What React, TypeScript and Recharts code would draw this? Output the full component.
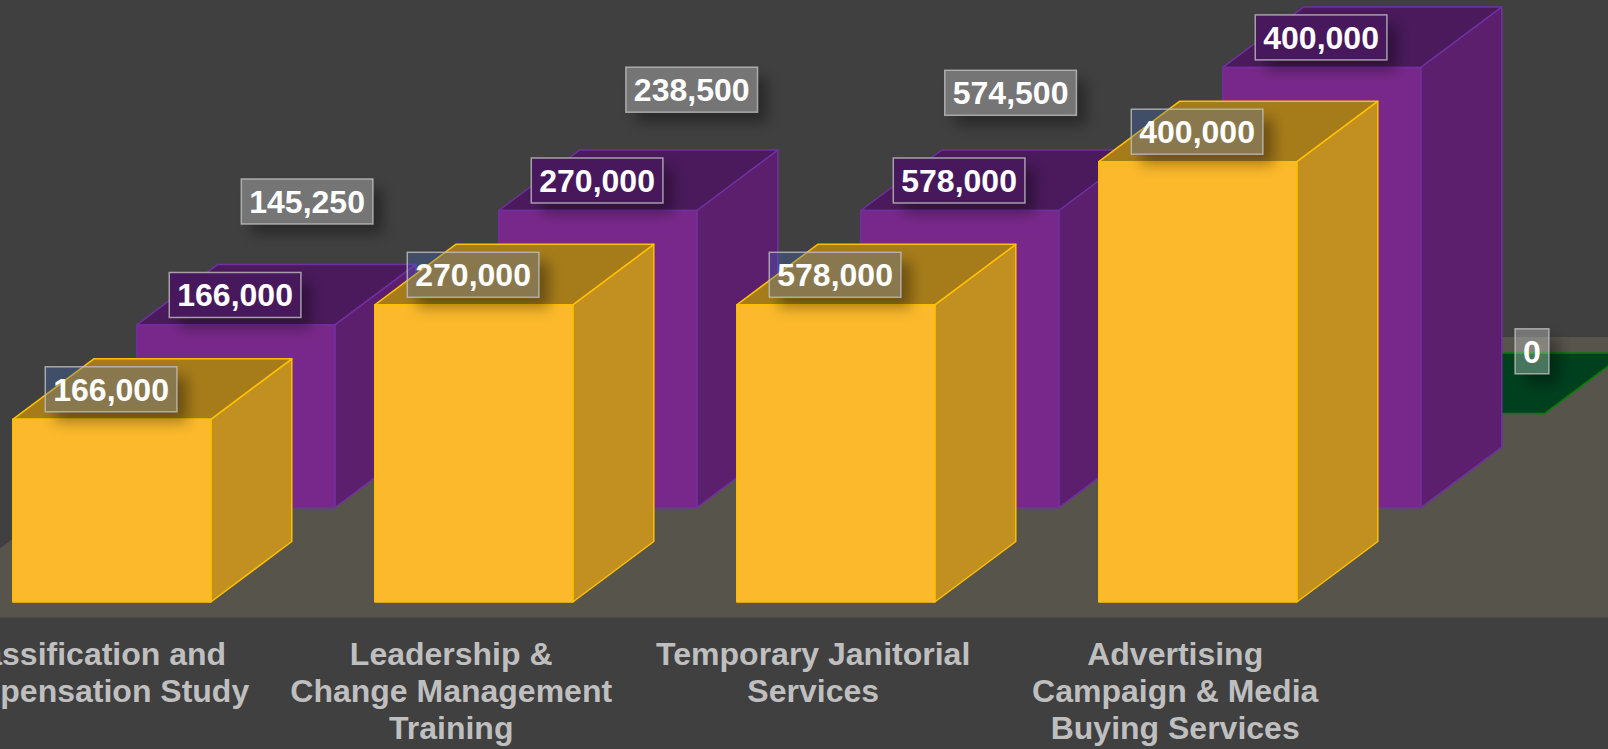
import { BarChart, Bar, XAxis, YAxis, LabelList, Customized } from "recharts"

// Category names, line breaks as in the picture
const categories = [
  "Classification and\nCompensation Study",
  "Leadership &\nChange Management\nTraining",
  "Temporary Janitorial\nServices",
  "Advertising\nCampaign & Media\nBuying Services",
]

// Plotted heights (the drawn bars do not follow the printed numbers in every case)
const goldValues = [166000, 270000, 270000, 400000]
const purpleValues = [166000, 270000, 270000, 400000]
const greenValues = [0, 0, 0, 0]

// Numbers printed in the boxes
const goldLabels = [166000, 270000, 578000, 400000]
const purpleLabels = [166000, 270000, 578000, 400000]
const greenLabels = [145250, 238500, 574500, 0]

const data = categories.map((name, i) => ({
  name,
  gold: goldValues[i],
  purple: purpleValues[i],
  green: greenValues[i],
  goldLabel: goldLabels[i],
  purpleLabel: purpleLabels[i],
  greenLabel: greenLabels[i],
}))

// Chart sits 100px left of the page so the first category can run off the edge
const SHIFT = 100
const BAR_WIDTH = 198
const DEPTH_X = 81
const DEPTH_Y = 60.5
const ROW_X = 124
const ROW_Y = 94.3
const FONT = "'Liberation Sans', Arial, sans-serif"

const GOLD = { front: "#FBB92B", side: "#C29020", top: "#A67C1A", stroke: "#FFC000" }
const PURPLE = { front: "#78288A", side: "#5C1F6E", top: "#4A1A5C", stroke: "#7030A0" }
const GREEN = { front: "#00401F", side: "#00401F", top: "#00401F", stroke: "#008000" }

// The green boxes were moved by hand in the source, away from their flat bars
const greenNudge = [
  { dx: -52.7, dy: -181.9 },
  { dx: -30.1, dy: -293.7 },
  { dx: -73.2, dy: -290.6 },
  { dx: 86.2, dy: -32.1 },
]

function Box3D(props: any) {
  const { x, y, width, height, row, colors } = props
  const left = x + row * ROW_X
  const right = left + width
  const top = y - row * ROW_Y
  const bottom = top + height
  const edge = { stroke: colors.stroke, strokeWidth: 1.5, strokeLinejoin: "round" as const }
  return (
    <g>
      {height > 0 && (
        <polygon
          points={`${right},${top} ${right + DEPTH_X},${top - DEPTH_Y} ${right + DEPTH_X},${bottom - DEPTH_Y} ${right},${bottom}`}
          fill={colors.side}
          {...edge}
        />
      )}
      <polygon
        points={`${left},${top} ${left + DEPTH_X},${top - DEPTH_Y} ${right + DEPTH_X},${top - DEPTH_Y} ${right},${top}`}
        fill={colors.top}
        {...edge}
      />
      {height > 0 && <rect x={left} y={top} width={width} height={height} fill={colors.front} {...edge} />}
    </g>
  )
}

function ValueBox(props: any) {
  const { x, y, width, value, index, row, boxFill, boxOpacity, nudge } = props
  const text = Number(value).toLocaleString("en-US")
  const digits = text.replace(/,/g, "").length
  const commas = text.length - digits
  const boxW = (digits * 0.556 + commas * 0.278) * 32 + 16
  const boxH = 45
  const n = nudge ? nudge[index] : { dx: -0.7, dy: 0 }
  const cx = x + width / 2 + row * ROW_X + n.dx
  const bottom = y - row * ROW_Y - 7.5 + n.dy
  const bx = cx - boxW / 2
  const by = bottom - boxH
  const clipId = `box-clip-${row}-${index}`
  return (
    <g>
      <defs>
        <clipPath id={clipId}>
          <path
            clipRule="evenodd"
            d={`M${bx - 60},${by - 60}h${boxW + 120}v${boxH + 120}h${-boxW - 120}z M${bx},${by}h${boxW}v${boxH}h${-boxW}z`}
          />
        </clipPath>
        <filter id={`box-blur-${row}-${index}`} x="-40%" y="-80%" width="180%" height="260%">
          <feGaussianBlur stdDeviation="7" />
        </filter>
      </defs>
      <g clipPath={`url(#${clipId})`}>
        <rect
          x={bx + 10}
          y={by + 10}
          width={boxW}
          height={boxH}
          fill="#000"
          fillOpacity={0.36}
          filter={`url(#box-blur-${row}-${index})`}
        />
      </g>
      <rect
        x={bx}
        y={by}
        width={boxW}
        height={boxH}
        fill={boxFill}
        fillOpacity={boxOpacity}
        stroke="#BFBFBF"
        strokeOpacity={0.8}
        strokeWidth={1.5}
      />
      <text
        x={cx}
        y={by + 34}
        textAnchor="middle"
        fontFamily={FONT}
        fontSize={32}
        fontWeight="bold"
        fill="#FFFFFF"
      >
        {text}
      </text>
    </g>
  )
}

function CategoryTick(props: any) {
  const { x, payload } = props
  const lines = String(payload.value).split("\n")
  return (
    <g>
      {lines.map((line: string, i: number) => (
        <text
          key={line}
          x={x - 22.6}
          y={665 + i * 37}
          textAnchor="middle"
          fontFamily={FONT}
          fontSize={32}
          fontWeight="bold"
          fill="#BFBFBF"
        >
          {line}
        </text>
      ))}
    </g>
  )
}

function Floor() {
  return <polygon points={`${SHIFT - 92},617.5 ${SHIFT + 1708},617.5 ${SHIFT + 1708},337 ${SHIFT + 282},337`} fill="#57544C" />
}

export default function App() {
  return (
    <div style={{ position: "absolute", left: 0, top: 0, width: 1608, height: 749, overflow: "hidden", background: "#404040" }}>
      <div style={{ position: "absolute", left: -SHIFT, top: 0 }}>
        <BarChart
          width={1808}
          height={749}
          data={data}
          margin={{ top: 161.7, bottom: 0, left: 30.8, right: 329.2 }}
          barSize={BAR_WIDTH}
          barGap={-BAR_WIDTH}
        >
          <Customized component={Floor} />
          <XAxis
            dataKey="name"
            axisLine={false}
            tickLine={false}
            interval={0}
            height={147}
            tick={<CategoryTick />}
          />
          <YAxis hide domain={[0, 400000]} width={0} />
          <Bar dataKey="green" isAnimationActive={false} shape={<Box3D row={2} colors={GREEN} />}>
            <LabelList
              dataKey="greenLabel"
              content={<ValueBox row={2} boxFill="#FFFFFF" boxOpacity={0.28} nudge={greenNudge} />}
            />
          </Bar>
          <Bar dataKey="purple" isAnimationActive={false} shape={<Box3D row={1} colors={PURPLE} />}>
            <LabelList dataKey="purpleLabel" content={<ValueBox row={1} boxFill="#47185C" boxOpacity={1} />} />
          </Bar>
          <Bar dataKey="gold" isAnimationActive={false} shape={<Box3D row={0} colors={GOLD} />}>
            <LabelList dataKey="goldLabel" content={<ValueBox row={0} boxFill="#4472C4" boxOpacity={0.3} />} />
          </Bar>
        </BarChart>
      </div>
    </div>
  )
}
